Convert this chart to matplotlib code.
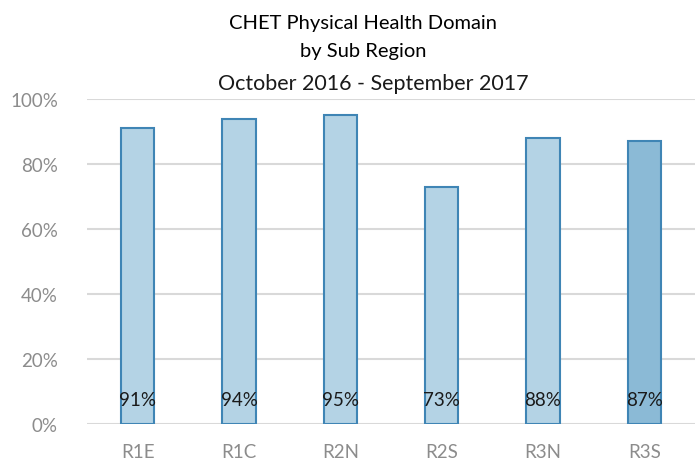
import matplotlib.pyplot as plt
import numpy as np

regions = ["R1E", "R1C", "R2N", "R2S", "R3N", "R3S"]
values = [91, 94, 95, 73, 88, 87]
face_colors = ["#b4d3e5", "#b4d3e5", "#b4d3e5", "#b4d3e5", "#b4d3e5", "#8bbad6"]
yticks = [0, 20, 40, 60, 80, 100]

plt.rcParams['font.family'] = ['Lato', 'DejaVu Sans']

fig = plt.figure(figsize=(6.95, 4.64), dpi=100)
ax = fig.add_axes([87 / 695, 1 - 425 / 464, 608 / 695, 325 / 464])

x = np.arange(len(regions))
ax.bar(x, values, width=0.33, color=face_colors, edgecolor="#3f85b5", linewidth=1.5, zorder=3)

for xi, v in zip(x, values):
    ax.text(xi, 5, f"{v}%", ha="center", va="bottom", fontsize=13.5, color="#1a1a1a", zorder=4)

ax.set_xlim(-0.5, len(regions) - 0.5)
ax.set_ylim(0, 100)
ax.set_yticks(yticks)
ax.set_yticklabels([f"{t}%" for t in yticks])
ax.set_xticks(x)
ax.set_xticklabels(regions)
ax.tick_params(axis="both", length=0, labelsize=13.5, labelcolor="#8c8c8c")
ax.tick_params(axis="y", pad=21)
ax.tick_params(axis="x", pad=14)
ax.grid(axis="y", color="#d9d9d9", linewidth=1.5, zorder=0)
for s in ax.spines.values():
    s.set_visible(False)

fig.text(363 / 695, 1 - 24 / 464, "CHET Physical Health Domain", ha="center", va="center", fontsize=14.5, color="black")
fig.text(363 / 695, 1 - 52 / 464, "by Sub Region", ha="center", va="center", fontsize=14.5, color="black")
fig.text(373 / 695, 1 - 84 / 464, "October 2016 - September 2017", ha="center", va="center", fontsize=15.5, color="#1a1a1a")

fig.savefig("out.png", dpi=100)
